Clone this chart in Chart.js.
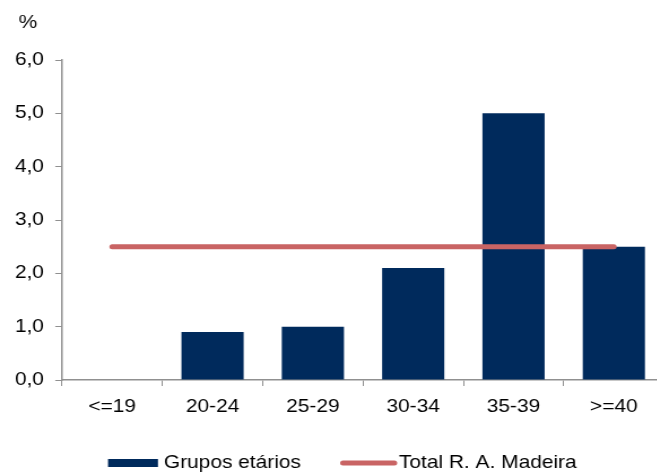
<!DOCTYPE html>
<html lang="pt">
<head>
<meta charset="UTF-8">
<title>Grupos etários</title>
<script src="https://cdn.jsdelivr.net/npm/chart.js@4/dist/chart.umd.min.js"></script>
<style>
    html, body { margin: 0; padding: 0; background: #fff; overflow: hidden; }
    #frame { width: 657px; height: 476px; overflow: hidden; position: relative; }
    /* the reference is a bit stretched in x, so draw narrower and scale */
    #wrap { position: absolute; left: 0; top: 0; width: 600px; height: 476px; transform: scaleX(1.13); transform-origin: 0 0; }
</style>
</head>
<body>
<div id="frame"><div id="wrap"><canvas id="chart"></canvas></div></div>
<script>
    const categories = ['<=19', '20-24', '25-29', '30-34', '35-39', '>=40'];
    const grupos = [null, 0.9, 1.0, 2.1, 5.0, 2.5];
    const totalMadeira = [2.5, 2.5, 2.5, 2.5, 2.5, 2.5];
    const seriesNames = ['Grupos etários', 'Total R. A. Madeira'];

    const navy = '#002a5c';
    const red = '#c96464';
    const axisGray = '#909090';
    const FONT = '"Liberation Sans", Arial, sans-serif';
    const FS = 18.5;

    Chart.defaults.font.family = FONT;
    Chart.defaults.font.size = FS;
    Chart.defaults.color = '#000';

    // % label and legend drawn by hand
    const extras = {
        id: 'extras',
        afterDraw(chart) {
            const ctx = chart.ctx;
            const y = chart.scales.y;
            ctx.save();
            ctx.font = FS + 'px ' + FONT;
            ctx.fillStyle = '#000';
            ctx.textAlign = 'center';
            ctx.textBaseline = 'middle';
            ctx.fillText('%', 24.8, y.top - 37);

            const ly = 463;
            ctx.fillStyle = navy;
            ctx.fillRect(95.6, ly - 4, 44.2, 8);
            ctx.strokeStyle = red;
            ctx.lineWidth = 5;
            ctx.lineCap = 'round';
            ctx.beginPath();
            ctx.moveTo(303.5, ly);
            ctx.lineTo(349, ly);
            ctx.stroke();
            ctx.fillStyle = '#000';
            ctx.textAlign = 'left';
            ctx.fillText(seriesNames[0], 145, ly);
            ctx.fillText(seriesNames[1], 353, ly);
            ctx.restore();
        }
    };

    new Chart(document.getElementById('chart'), {
        data: {
            labels: categories,
            datasets: [
                {
                    type: 'line',
                    label: seriesNames[1],
                    data: totalMadeira,
                    borderColor: red,
                    borderWidth: 5,
                    borderCapStyle: 'round',
                    pointRadius: 0,
                    fill: false,
                    order: 1
                },
                {
                    type: 'bar',
                    label: seriesNames[0],
                    data: grupos,
                    backgroundColor: navy,
                    barPercentage: 0.62,
                    categoryPercentage: 1.0,
                    order: 2
                }
            ]
        },
        options: {
            responsive: true,
            maintainAspectRatio: false,
            animation: false,
            layout: { padding: { top: 60, right: 12.4, bottom: 58, left: 0 } },
            plugins: {
                legend: { display: false },
                tooltip: { enabled: false }
            },
            scales: {
                x: {
                    grid: { drawOnChartArea: false, drawTicks: true, tickLength: 6, color: axisGray, offset: true },
                    border: { color: axisGray, width: 1.5 },
                    ticks: { padding: 10, maxRotation: 0, autoSkip: false },
                    afterFit(s) { s.height = 38; }
                },
                y: {
                    min: 0,
                    max: 6,
                    grid: { drawOnChartArea: false, drawTicks: true, tickLength: 6, color: axisGray },
                    border: { color: axisGray, width: 1.5 },
                    ticks: {
                        stepSize: 1,
                        padding: 10,
                        callback: v => v.toFixed(1).replace('.', ',')
                    },
                    afterFit(s) { s.width = 54.9; }
                }
            }
        },
        plugins: [extras]
    });
</script>
</body>
</html>
